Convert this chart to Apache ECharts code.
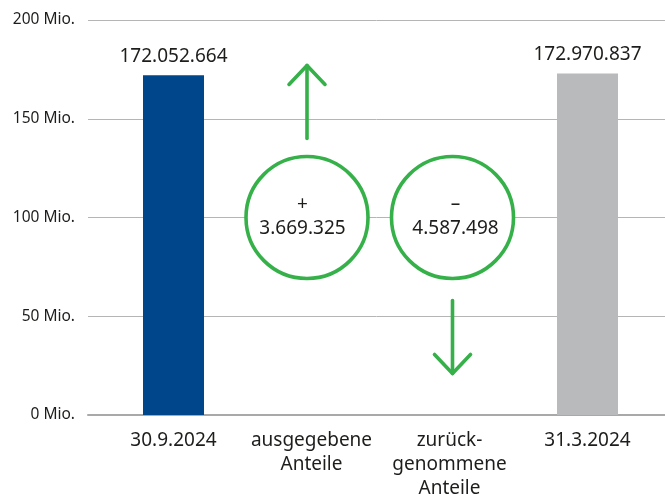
<!DOCTYPE html>
<html>
<head>
<meta charset="utf-8">
<script src="https://cdn.jsdelivr.net/npm/echarts@6/dist/echarts.min.js"></script>
<style>
  html, body { margin: 0; padding: 0; background: #fff; }
  #chart { width: 665px; height: 498px; }
</style>
</head>
<body>
<div id="chart"></div>
<script>
// Share count bridge: opening balance, issued, redeemed, closing balance
const categories = ['30.9.2024', 'ausgegebene\nAnteile', 'zurück-\ngenommene\nAnteile', '31.3.2024'];
const balanceValues = [172052664, null, null, 172970837];
const changeSigns = ['+', '–'];
const changeValues = [3669325, 4587498];
const changeCategoryIndex = [1, 2];
const yTicks = [0, 50000000, 100000000, 150000000, 200000000];

// annotation anchors (value units)
const circleLevel = 100000000;
const arrowFrom = [140000000, 58000000];
const arrowTo = [177000000, 21000000];

const TEXT = '#1d1d1b';
const GREEN = '#36b14a';
const FONT = 'Noto Sans';
// small horizontal shift of the circle/arrow annotations within their category slot
const ANNOT_SHIFT = [-4.5, 3];

function fmtDE(n) {
  return String(n).replace(/\B(?=(\d{3})+(?!\d))/g, '.');
}

const chart = echarts.init(document.getElementById('chart'), null, { renderer: 'canvas' });

const option = {
  animation: false,
  textStyle: { fontFamily: FONT },
  grid: [
    { left: 88, right: 0, top: 20, bottom: 83, containLabel: false, outerBoundsMode: 'none' },
    { left: 104.5, width: 552, top: 20, bottom: 83, containLabel: false, outerBoundsMode: 'none' }
  ],
  xAxis: [
    {
      gridIndex: 0, type: 'value', min: 0, max: 1,
      axisLine: { show: true, lineStyle: { color: '#a9a9a9', width: 2 } },
      axisTick: { show: false }, axisLabel: { show: false }, splitLine: { show: false }
    },
    {
      gridIndex: 1, type: 'category', data: categories,
      axisLine: { show: false }, axisTick: { show: false },
      axisLabel: {
        color: TEXT, fontSize: 19, lineHeight: 24, margin: 14,
        fontFamily: FONT, interval: 0
      }
    }
  ],
  yAxis: [
    {
      gridIndex: 0, type: 'value',
      min: yTicks[0], max: yTicks[yTicks.length - 1], interval: yTicks[1] - yTicks[0],
      axisLine: { show: false }, axisTick: { show: false },
      axisLabel: {
        color: TEXT, fontSize: 15.5, margin: 13, fontFamily: FONT,
        formatter: v => (v / 1e6) + ' Mio.'
      },
      splitLine: { lineStyle: { color: '#b5b5b5', width: 1 } }
    },
    {
      gridIndex: 1, type: 'value',
      min: yTicks[0], max: yTicks[yTicks.length - 1],
      show: false, splitLine: { show: false }
    }
  ],
  series: [
    {
      type: 'bar',
      xAxisIndex: 1, yAxisIndex: 1,
      barWidth: 61,
      data: balanceValues.map((v, i) => v == null ? null : {
        value: v,
        itemStyle: { color: i === 0 ? '#00468b' : '#b9babc' }
      }),
      label: {
        show: true, position: 'top', distance: 9,
        color: TEXT, fontSize: 19, fontFamily: FONT,
        formatter: p => fmtDE(p.value)
      }
    },
    {
      type: 'custom',
      xAxisIndex: 1, yAxisIndex: 1,
      data: changeCategoryIndex.map((c, i) => [c, arrowFrom[i], arrowTo[i]]),
      renderItem: function (params, api) {
        const c = api.value(0);
        const dx = ANNOT_SHIFT[params.dataIndex];
        const p0 = api.coord([c, api.value(1)]);
        const p1 = api.coord([c, api.value(2)]);
        const x = p0[0] + dx;
        const dir = p1[1] < p0[1] ? -1 : 1;
        const style = { stroke: GREEN, fill: null, lineWidth: 3.6, lineCap: 'round', lineJoin: 'round' };
        return {
          type: 'group',
          children: [
            { type: 'line', shape: { x1: x, y1: p0[1], x2: x, y2: p1[1] }, style: style },
            {
              type: 'polyline',
              shape: { points: [[x - 18, p1[1] - dir * 19], [x, p1[1]], [x + 18, p1[1] - dir * 19]] },
              style: style
            }
          ]
        };
      },
      z: 3
    },
    {
      type: 'scatter',
      xAxisIndex: 1, yAxisIndex: 1,
      symbol: 'circle',
      symbolSize: 122,
      itemStyle: { color: '#ffffff', borderColor: GREEN, borderWidth: 3.6, opacity: 1 },
      data: changeCategoryIndex.map((c, i) => ({
        value: [c, circleLevel],
        symbolOffset: [ANNOT_SHIFT[i], 0],
        label: { formatter: changeSigns[i] + '\n' + fmtDE(changeValues[i]), offset: [ANNOT_SHIFT[i], -1] }
      })),
      label: {
        show: true, position: 'inside',
        color: TEXT, fontSize: 19, lineHeight: 24, fontFamily: FONT, align: 'center'
      },
      emphasis: { disabled: true },
      z: 4
    }
  ]
};

chart.setOption(option);
</script>
</body>
</html>
